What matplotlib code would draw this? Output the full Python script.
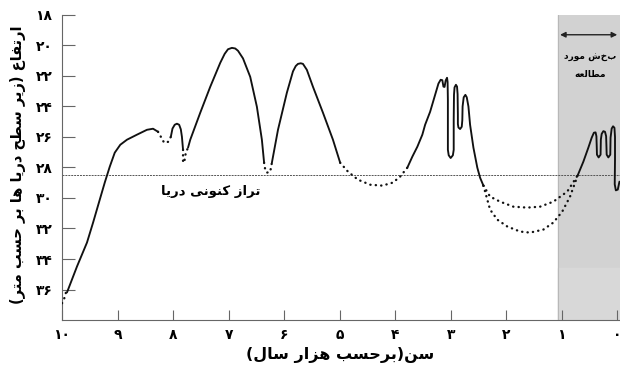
import matplotlib.pyplot as plt

# presentation forms: isolated, final, initial, medial
FORMS = {
    'ا': ('\uFE8D', '\uFE8E', None, None),
    'ب': ('\uFE8F', '\uFE90', '\uFE91', '\uFE92'),
    'ت': ('\uFE95', '\uFE96', '\uFE97', '\uFE98'),
    'ح': ('\uFEA1', '\uFEA2', '\uFEA3', '\uFEA4'),
    'د': ('\uFEA9', '\uFEAA', None, None),
    'ر': ('\uFEAD', '\uFEAE', None, None),
    'ز': ('\uFEAF', '\uFEB0', None, None),
    'س': ('\uFEB1', '\uFEB2', '\uFEB3', '\uFEB4'),
    'ش': ('\uFEB5', '\uFEB6', '\uFEB7', '\uFEB8'),
    'ط': ('\uFEC1', '\uFEC2', '\uFEC3', '\uFEC4'),
    'ع': ('\uFEC9', '\uFECA', '\uFECB', '\uFECC'),
    'ف': ('\uFED1', '\uFED2', '\uFED3', '\uFED4'),
    'ل': ('\uFEDD', '\uFEDE', '\uFEDF', '\uFEE0'),
    'م': ('\uFEE1', '\uFEE2', '\uFEE3', '\uFEE4'),
    'ن': ('\uFEE5', '\uFEE6', '\uFEE7', '\uFEE8'),
    'ه': ('\uFEE9', '\uFEEA', '\uFEEB', '\uFEEC'),
    'و': ('\uFEED', '\uFEEE', None, None),
    'ک': ('\uFB8E', '\uFB8F', '\uFB90', '\uFB91'),
    'ی': ('\uFBFC', '\uFBFD', '\uFBFE', '\uFBFF'),
}


def fa(text):
    out = []
    for i, ch in enumerate(text):
        if ch not in FORMS:
            out.append(ch)
            continue
        prev = text[i - 1] if i > 0 else ''
        nxt = text[i + 1] if i + 1 < len(text) else ''
        iso, fin, ini, med = FORMS[ch]
        jp = prev in FORMS and FORMS[prev][2] is not None
        jn = ini is not None and nxt in FORMS
        if jp and jn:
            out.append(med)
        elif jp:
            out.append(fin)
        elif jn:
            out.append(ini)
        else:
            out.append(iso)
    s = ''.join(reversed(out))
    return s.translate(str.maketrans('()', ')('))


# age (thousand years) / depth (m below sea level)
start_age = [10.0, 9.95, 9.91]
start_dep = [36.9, 36.5, 35.9]

a_age = [9.91, 9.73, 9.55, 9.44, 9.32, 9.23, 9.14, 9.05, 8.95, 8.83, 8.65, 8.47, 8.36, 8.27]
a_dep = [36.19, 34.49, 32.92, 31.61, 30.11, 28.99, 27.95, 27.03, 26.51, 26.18, 25.85, 25.53, 25.46, 25.66]

gap1_age = [8.27, 8.21, 8.16, 8.09, 8.04]
gap1_dep = [25.66, 26.05, 26.38, 26.32, 25.99]

b_age = [8.04, 8.01, 7.97, 7.93, 7.89, 7.86, 7.84, 7.82]
b_dep = [25.99, 25.45, 25.20, 25.13, 25.20, 25.50, 25.99, 26.84]

gap2_age = [7.82, 7.82, 7.80, 7.77, 7.73]
gap2_dep = [26.84, 27.62, 27.69, 27.03, 26.70]

c_age = [7.73, 7.69, 7.51, 7.33, 7.15, 7.07, 7.01, 6.94, 6.88, 6.83, 6.74, 6.61, 6.49, 6.40, 6.36]
c_dep = [26.70, 26.18, 24.41, 22.71, 21.14, 20.55, 20.25, 20.16, 20.20, 20.35, 20.85, 22.06, 24.02, 26.18, 27.69]

gap3_age = [6.36, 6.34, 6.31, 6.25, 6.22]
gap3_dep = [27.69, 28.14, 28.34, 28.28, 27.69]

d_age = [6.22, 6.11, 5.95, 5.84, 5.79, 5.75, 5.70, 5.66, 5.59, 5.48, 5.30, 5.12, 4.99]
d_dep = [27.69, 25.53, 23.10, 21.70, 21.35, 21.21, 21.17, 21.21, 21.60, 22.71, 24.41, 26.18, 27.69]

gap4_age = [4.99, 4.85, 4.67, 4.45, 4.23, 4.04, 3.91, 3.78]
gap4_dep = [27.69, 28.27, 28.80, 29.13, 29.19, 28.99, 28.60, 28.01]

e_age = [3.78, 3.69, 3.60, 3.51, 3.46, 3.37, 3.28, 3.22, 3.18, 3.15, 3.13, 3.11, 3.09,
         3.065, 3.055, 3.05, 3.05, 3.05, 3.035, 3.00, 2.96, 2.945, 2.945, 2.94, 2.93, 2.905, 2.885,
         2.875, 2.87, 2.87, 2.86, 2.83, 2.80, 2.79, 2.785, 2.765, 2.735, 2.71, 2.68, 2.65, 2.59, 2.52,
         2.47, 2.41]
e_dep = [28.01, 27.29, 26.64, 25.85, 25.20, 24.35, 23.24, 22.50, 22.25, 22.28, 22.70, 22.72, 22.30,
         22.12, 22.40, 23.56, 25.53, 26.84, 27.20, 27.38, 27.20, 26.84, 24.87, 23.24, 22.75, 22.58, 22.70,
         23.20, 24.54, 25.15, 25.38, 25.48, 25.33, 24.90, 24.00, 23.40, 23.24, 23.40, 24.00, 25.20, 26.70, 28.01,
         28.67, 29.19]

up_age = [2.41, 2.29, 2.11, 1.87, 1.62, 1.39, 1.15, 0.90, 0.71]
up_dep = [29.19, 29.91, 30.24, 30.57, 30.63, 30.57, 30.24, 29.58, 28.50]

low_age = [2.41, 2.38, 2.34, 2.29, 2.16, 1.98, 1.75, 1.57, 1.33, 1.15, 0.99, 0.85, 0.71]
low_dep = [29.19, 29.58, 30.11, 30.76, 31.42, 31.87, 32.20, 32.27, 32.07, 31.61, 30.89, 29.91, 28.50]

f_age = [0.71, 0.61, 0.52, 0.46, 0.42, 0.39, 0.375, 0.37, 0.365, 0.335, 0.30, 0.295, 0.28, 0.25, 0.22, 0.20,
         0.195, 0.19, 0.16, 0.125, 0.12, 0.10, 0.075, 0.05, 0.04, 0.04, 0.045, 0.025, -0.01, -0.04]
f_dep = [28.50, 27.62, 26.70, 26.05, 25.72, 25.70, 25.95, 26.51, 27.16, 27.34, 27.16, 26.18, 25.80, 25.62, 25.66, 25.95,
         26.51, 27.16, 27.34, 27.16, 26.05, 25.45, 25.30, 25.40, 26.00, 27.50, 29.10, 29.50, 29.45, 28.93]

sea_level = 28.47
study_start = 1.06

x_ticks = [10, 9, 8, 7, 6, 5, 4, 3, 2, 1, 0]
x_labels = ['۱۰', '۹', '۸', '۷', '۶', '۵', '۴', '۳', '۲', '۱', '۰']
y_ticks = [18, 20, 22, 24, 26, 28, 30, 32, 34, 36]
y_labels = ['۱۸', '۲۰', '۲۲', '۲۴', '۲۶', '۲۸', '۳۰', '۳۲', '۳۴', '۳۶']

plt.rcParams['font.family'] = ['DejaVu Sans']

fig = plt.figure(figsize=(6.2, 3.73), dpi=100)
ax = fig.add_axes([0.1, 0.142, 0.9, 0.818])

ax.axvspan(study_start, -0.05, color='#d2d2d2', zorder=0)
ax.axvspan(study_start, -0.05, ymin=0, ymax=0.17, color='#d8d8d8', zorder=0)
ax.axvline(study_start, color='#b8b8b8', lw=0.8, zorder=0)

ax.axhline(sea_level, color='#555555', lw=0.7, ls=(0, (2, 1)), zorder=1)

solid = dict(color='#111111', lw=1.35, solid_capstyle='round', solid_joinstyle='round', zorder=3)
dots = dict(color='#111111', lw=1.7, ls=(0, (0.1, 2.2)), dash_capstyle='round', zorder=3)

for xs, ys in [(a_age, a_dep), (b_age, b_dep), (c_age, c_dep), (d_age, d_dep),
               (e_age, e_dep), (f_age, f_dep)]:
    ax.plot(xs, ys, **solid)
for xs, ys in [(start_age, start_dep), (gap1_age, gap1_dep), (gap2_age, gap2_dep),
               (gap3_age, gap3_dep), (gap4_age, gap4_dep), (up_age, up_dep), (low_age, low_dep)]:
    ax.plot(xs, ys, **dots)

ax.set_xlim(10, -0.05)
ax.set_ylim(38, 18)

ax.set_xticks(x_ticks)
ax.set_xticklabels(x_labels, fontweight='bold', fontsize=10)
ax.set_yticks(y_ticks)
ax.set_yticklabels(y_labels, fontweight='bold', fontsize=10)
ax.tick_params(axis='x', direction='in', length=7, width=0.8, color='#666666', pad=6)
ax.tick_params(axis='y', direction='in', length=9, width=0.8, color='#666666', pad=7)

for side in ['top', 'right']:
    ax.spines[side].set_visible(False)
for side in ['left', 'bottom']:
    ax.spines[side].set_color('#666666')
    ax.spines[side].set_linewidth(0.8)

ax.text(7.33, 29.6, fa('تراز کنونی دریا'), ha='center', va='center',
        fontsize=9.5, fontweight='bold')

ax.annotate('', xy=(0.0, 19.3), xytext=(1.03, 19.3),
            arrowprops=dict(arrowstyle='<|-|>', color='#222222', lw=1.0,
                            mutation_scale=8, shrinkA=0, shrinkB=0))
ax.text(0.49, 20.8, fa('بخش مورد'), ha='center', va='center', fontsize=6.5, fontweight='bold')
ax.text(0.49, 21.9, fa('مطالعه'), ha='center', va='center', fontsize=6.5, fontweight='bold')

fig.text(18 / 620, 1 - 165 / 373, fa('ارتفاع (زیر سطح دریا ها بر حسب متر)'),
         rotation=90, ha='center', va='center', fontsize=10.5, fontweight='bold')
fig.text(340 / 620, 1 - 355 / 373, fa('سن(برحسب هزار سال)'),
         ha='center', va='center', fontsize=11.5, fontweight='bold')

fig.savefig('out.png', dpi=100)
